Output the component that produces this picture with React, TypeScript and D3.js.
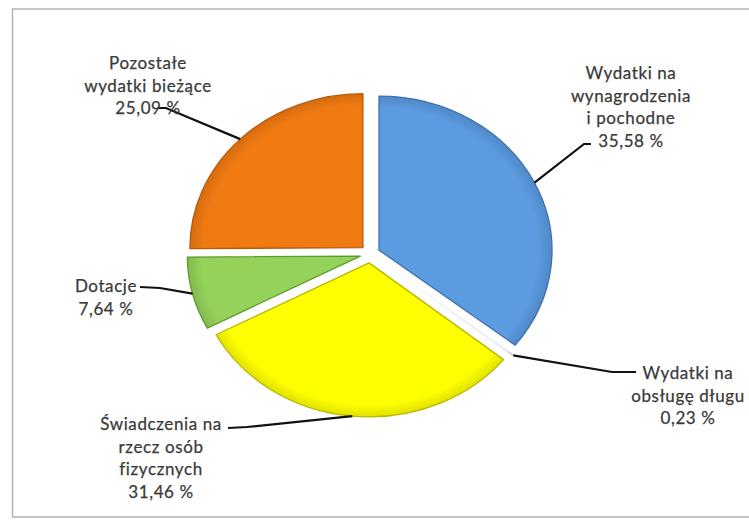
import React, { useEffect, useRef } from 'react';
import * as d3 from 'd3';

// shares of current expenditure (%), clockwise from 12 o'clock
const categories = [
  'Wydatki na wynagrodzenia i pochodne',
  'Wydatki na obsługę długu',
  'Świadczenia na rzecz osób fizycznych',
  'Dotacje',
  'Pozostałe wydatki bieżące',
];
const shares = [35.58, 0.23, 31.46, 7.64, 25.09];
const labelLines = [
  ['Wydatki na', 'wynagrodzenia', 'i pochodne'],
  ['Wydatki na', 'obsługę długu'],
  ['Świadczenia na', 'rzecz osób', 'fizycznych'],
  ['Dotacje'],
  ['Pozostałe', 'wydatki bieżące'],
];
const colors = ['#5b9be0', '#e9eef6', '#ffff00', '#95d25a', '#f07a12'];
const edgeColors = ['#3f6fae', 'none', '#b8b800', '#5e9a2c', '#b85a08'];

// label placement: text centre x, first line y, leader elbow (x,y) and leader end (x,y)
const labelLayout = [
  { x: 631, y: 72, elbow: [584, 144], end: [591, 144] },
  { x: 688, y: 372, elbow: [612, 372], end: [636, 372] },
  { x: 161, y: 423, elbow: [247, 427], end: [228, 428] },
  { x: 106, y: 285, elbow: [160, 288], end: [140, 287] },
  { x: 148, y: 62, elbow: [166, 108], end: [158, 108] },
];

const W = 749;
const H = 520;

const App: React.FC = () => {
  const ref = useRef<SVGSVGElement>(null);

  useEffect(() => {
    if (!ref.current) return;
    const svg = d3.select(ref.current);
    svg.selectAll('*').remove();

    const cx = 370;
    const cy = 254;
    const r = 173;
    const squash = 154 / 173;
    const explode = 10;
    const lineH = 22.5;

    // chart frame
    svg.append('rect')
      .attr('x', 12.5).attr('y', 9)
      .attr('width', W + 10).attr('height', 508)
      .attr('fill', '#fff')
      .attr('stroke', '#b3b3b3')
      .attr('stroke-width', 1.5);

    const pie = d3.pie<number>().sort(null).value(d => d);
    const arcs = pie(shares);
    const arc = d3.arc<d3.PieArcDatum<number>>().innerRadius(0).outerRadius(r);

    const defs = svg.append('defs');
    arcs.forEach((a, i) => {
      const g = defs.append('radialGradient')
        .attr('id', `grad${i}`)
        .attr('gradientUnits', 'userSpaceOnUse')
        .attr('cx', 0).attr('cy', 0).attr('r', r);
      g.append('stop').attr('offset', '0%').attr('stop-color', colors[i]);
      g.append('stop').attr('offset', '92%').attr('stop-color', colors[i]);
      g.append('stop').attr('offset', '100%').attr('stop-color', d3.color(colors[i])!.darker(0.35).toString());
    });

    const mid = (a: d3.PieArcDatum<number>) => (a.startAngle + a.endAngle) / 2;

    const pieG = svg.append('g')
      .attr('transform', `translate(${cx},${cy}) scale(1,${squash})`);

    pieG.selectAll('path')
      .data(arcs)
      .join('path')
      .attr('transform', d => `translate(${explode * Math.sin(mid(d))},${-explode * Math.cos(mid(d))})`)
      .attr('d', arc)
      .attr('fill', (d, i) => `url(#grad${i})`)
      .attr('stroke', (d, i) => edgeColors[i])
      .attr('stroke-width', 1.3)
      .attr('vector-effect', 'non-scaling-stroke')
      .attr('stroke-linejoin', 'round');

    // leader lines
    arcs.forEach((a, i) => {
      const m = mid(a);
      const ax = cx + (explode + r) * Math.sin(m);
      const ay = cy - (explode + r) * Math.cos(m) * squash;
      const L = labelLayout[i];
      svg.append('polyline')
        .attr('points', `${ax},${ay} ${L.elbow[0]},${L.elbow[1]} ${L.end[0]},${L.end[1]}`)
        .attr('fill', 'none')
        .attr('stroke', '#111')
        .attr('stroke-width', 2.2);
    });

    // labels
    const pct = (v: number) => d3.format('.2f')(v).replace('.', ',') + ' %';
    arcs.forEach((a, i) => {
      const L = labelLayout[i];
      const lines = [...labelLines[i], pct(shares[i])];
      const t = svg.append('text')
        .attr('x', L.x)
        .attr('y', L.y)
        .attr('text-anchor', 'middle')
        .attr('dominant-baseline', 'central')
        .attr('font-family', 'Lato, "Open Sans", sans-serif')
        .attr('font-size', 17)
        .attr('letter-spacing', 0.6)
        .attr('stroke', '#3a3a3a')
        .attr('stroke-width', 0.25)
        .attr('fill', '#3a3a3a');
      t.append('title').text(categories[i]);
      lines.forEach((s, k) => {
        t.append('tspan').attr('x', L.x).attr('y', L.y + k * lineH).text(s);
      });
    });
  }, []);

  return (
    <svg
      ref={ref}
      width={W}
      height={H}
      style={{ position: 'absolute', left: 0, top: 0, background: '#fff' }}
    />
  );
};

export default App;
